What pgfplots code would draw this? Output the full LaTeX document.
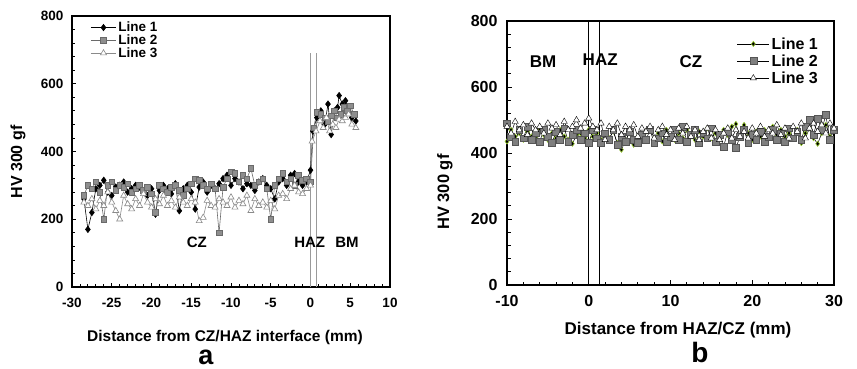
\documentclass[border=0pt]{standalone}
\usepackage{pgfplots}
\pgfplotsset{compat=1.18}
\usepackage{fontspec}
\setmainfont{Liberation Sans}
\definecolor{sqA}{HTML}{8E8E8E}
\definecolor{sqAedge}{HTML}{6A6A6A}
\definecolor{triA}{HTML}{8A8A8A}
\definecolor{sqB}{HTML}{7F7F7F}
\definecolor{sqBedge}{HTML}{555555}
\definecolor{ygreen}{HTML}{9ACD32}
\definecolor{vline}{HTML}{9A9A9A}

\begin{document}
\begin{tikzpicture}[font=\bfseries]
\useasboundingbox (0,0) rectangle (857pt,368pt);
% ---------------- panel a ----------------
\begin{axis}[at={(72pt,81pt)}, anchor=south west, scale only axis,
  width=318pt, height=271pt,
  xmin=-30, xmax=10, ymin=0, ymax=800,
  xtick={-30,-25,...,10}, ytick={0,200,...,800},
  minor x tick num=4, minor y tick num=4,
  tick pos=left, tick align=inside,
  major tick length=4pt, minor tick length=3pt,
  axis line style={line width=1.5pt},
  every tick/.style={black, line width=0.8pt},
  /pgf/number format/assume math mode=true,
  x tick label style={font=\bfseries\fontsize{13.5}{15}\selectfont, yshift=-8pt},
  y tick label style={font=\bfseries\fontsize{13.5}{15}\selectfont, xshift=-5pt},
  xlabel={Distance from CZ/HAZ interface (mm)},
  ylabel={HV 300 gf},
  xlabel style={font=\bfseries\fontsize{15.5}{17}\selectfont, at={(axis description cs:0.481,-0.1845)}, anchor=center},
  ylabel style={font=\bfseries\fontsize{16}{18}\selectfont, at={(axis description cs:-0.170,0.461)}, anchor=center},
  legend style={at={(axis description cs:0.055,0.99)}, anchor=north west, draw=none, fill=none,
    font=\bfseries\fontsize{13.5}{14}\selectfont, row sep=-2.5pt, inner sep=1pt},
  legend cell align=left,
  legend image code/.code={\draw[mark repeat=2,mark phase=2,#1] plot coordinates {(0pt,0pt) (12.5pt,0pt) (25pt,0pt)};},
]
\addplot[forget plot, vline, line width=0.9pt] coordinates {(0,0) (0,690)};
\addplot[forget plot, vline, line width=0.9pt] coordinates {(0.75,0) (0.75,690)};
\addplot[black, line width=0.6pt, mark=diamond*, mark size=3.2pt, mark options={fill=black, draw=black}] coordinates {
(-28.5,260) (-28,170) (-27.5,220) (-27,290) (-26.5,300) (-26,315) (-25.5,280) (-25,270) (-24.5,295) (-24,300)
(-23.5,310) (-23,280) (-22.5,290) (-22,300) (-21.5,295) (-21,280) (-20.5,270) (-20,290) (-19.5,215) (-19,285)
(-18.5,300) (-18,290) (-17.5,275) (-17,305) (-16.5,225) (-16,290) (-15.5,300) (-15,280) (-14.5,230) (-14,295)
(-13.5,310) (-13,280) (-12.5,300) (-12,290) (-11.5,305) (-11,320) (-10.5,330) (-10,300) (-9.5,320) (-9,310)
(-8.5,290) (-8,305) (-7.5,300) (-7,285) (-6.5,310) (-6,320) (-5.5,300) (-5,290) (-4.5,260) (-4,310)
(-3.5,320) (-3,300) (-2.5,330) (-2,335) (-1.5,310) (-1,300) (-0.5,310) (0,345) (0.3,460) (0.8,500)
(1.3,520) (1.8,480) (2.2,540) (2.6,450) (3,520) (3.4,530) (3.6,565) (4,540) (4.4,550) (4.8,520) (5.2,500) (5.7,490)};
\addlegendentry{Line 1}
\addplot[sqAedge, line width=0.6pt, mark=square*, mark size=2.8pt, mark options={fill=sqA, draw=sqAedge}] coordinates {
(-28.5,270) (-28,300) (-27.5,290) (-27,310) (-26.5,280) (-26,200) (-25.5,300) (-25,310) (-24.5,285) (-24,300)
(-23.5,295) (-23,305) (-22.5,280) (-22,290) (-21.5,300) (-21,285) (-20.5,295) (-20,275) (-19.5,220) (-19,300)
(-18.5,290) (-18,280) (-17.5,295) (-17,300) (-16.5,285) (-16,270) (-15.5,290) (-15,305) (-14.5,320) (-14,315)
(-13.5,300) (-13,290) (-12.5,305) (-12,290) (-11.5,160) (-11,295) (-10.5,320) (-10,340) (-9.5,335) (-9,310)
(-8.5,330) (-8,320) (-7.5,350) (-7,300) (-6.5,310) (-6,320) (-5.5,290) (-5,200) (-4.5,300) (-4,320)
(-3.5,335) (-3,310) (-2.5,320) (-2,300) (-1.5,330) (-1,315) (-0.5,320) (0,310) (0.4,470) (0.8,515)
(1.3,510) (1.8,500) (2.2,490) (2.6,505) (3,520) (3.4,500) (3.8,510) (4.2,530) (4.6,520) (5,535) (5.5,510)};
\addlegendentry{Line 2}
\addplot[triA, line width=0.6pt, mark=triangle*, mark size=3.5pt, mark options={fill=white, draw=triA}] coordinates {
(-28.5,250) (-28,240) (-27.5,260) (-27,230) (-26.5,255) (-26,240) (-25.5,280) (-25,250) (-24.5,225) (-24,200)
(-23.5,270) (-23,245) (-22.5,230) (-22,260) (-21.5,240) (-21,275) (-20.5,250) (-20,235) (-19.5,260) (-19,245)
(-18.5,270) (-18,240) (-17.5,255) (-17,235) (-16.5,265) (-16,250) (-15.5,240) (-15,260) (-14.5,250) (-14,195)
(-13.5,205) (-13,255) (-12.5,240) (-12,235) (-11.5,260) (-11,250) (-10.5,240) (-10,265) (-9.5,235) (-9,255)
(-8.5,245) (-8,270) (-7.5,225) (-7,260) (-6.5,240) (-6,250) (-5.5,235) (-5,255) (-4.5,230) (-4,270)
(-3.5,275) (-3,260) (-2.5,290) (-2,300) (-1.5,280) (-1,275) (-0.5,290) (0,300) (0.2,430) (0.7,460)
(1.2,490) (1.6,470) (2,500) (2.4,460) (2.8,480) (3.2,470) (3.6,495) (4,490) (4.4,500) (4.8,510) (5.2,480) (5.7,470)};
\addlegendentry{Line 3}
\node[font=\bfseries\fontsize{15}{17}\selectfont] at (axis cs:-14.3,133) {CZ};
\node[font=\bfseries\fontsize{15}{17}\selectfont] at (axis cs:-0.1,133) {HAZ};
\node[font=\bfseries\fontsize{15}{17}\selectfont] at (axis cs:4.6,133) {BM};
\end{axis}
% ---------------- panel b ----------------
\begin{axis}[at={(507pt,83pt)}, anchor=south west, scale only axis,
  width=327pt, height=264pt,
  xmin=-10, xmax=30, ymin=0, ymax=800,
  xtick={-10,0,...,30}, ytick={0,200,...,800},
  minor x tick num=4, minor y tick num=4,
  tick pos=left, tick align=inside,
  major tick length=5pt, minor tick length=3.5pt,
  axis line style={line width=1.5pt},
  every tick/.style={black, line width=0.8pt},
  /pgf/number format/assume math mode=true,
  x tick label style={font=\bfseries\fontsize{16}{18}\selectfont, yshift=-7pt},
  y tick label style={font=\bfseries\fontsize{16}{18}\selectfont, xshift=-6pt},
  xlabel={Distance from HAZ/CZ (mm)},
  ylabel={HV 300 gf},
  xlabel style={font=\bfseries\fontsize{17}{19}\selectfont, at={(axis description cs:0.523,-0.170)}, anchor=center},
  ylabel style={font=\bfseries\fontsize{16.5}{18}\selectfont, at={(axis description cs:-0.190,0.352)}, anchor=center},
  legend style={at={(axis description cs:0.70,0.95)}, anchor=north west, draw=none, fill=none,
    font=\bfseries\fontsize{16}{17}\selectfont, row sep=0pt, inner sep=1pt},
  legend cell align=left,
  legend image code/.code={\draw[mark repeat=2,mark phase=2,#1] plot coordinates {(0pt,0pt) (16pt,0pt) (32pt,0pt)};},
]
\addplot[forget plot, black, line width=0.8pt] coordinates {(0,0) (0,800)};
\addplot[forget plot, black, line width=0.8pt] coordinates {(1.35,0) (1.35,800)};
\addplot[black, line width=0.5pt, mark=diamond*, mark size=2.6pt, mark options={fill=black, draw=ygreen, line width=0.6pt}] coordinates {
(-10,435) (-9.5,470) (-9,450) (-8.5,460) (-8,440) (-7.5,465) (-7,450) (-6.5,445) (-6,470) (-5.5,455)
(-5,440) (-4.5,460) (-4,445) (-3.5,470) (-3,450) (-2.5,440) (-2,428) (-1.5,455) (-1,460) (-0.5,445)
(0,470) (0.5,450) (1,460) (1.5,440) (2,455) (2.5,445) (3,465) (3.5,430) (4,410) (4.5,440)
(5,460) (5.5,425) (6,450) (6.5,440) (7,465) (7.5,475) (8,445) (8.5,460) (9,435) (9.5,470)
(10,450) (10.5,440) (11,460) (11.5,445) (12,470) (12.5,450) (13,440) (13.5,465) (14,450) (14.5,475)
(15,445) (15.5,460) (16,440) (16.5,470) (17,455) (17.5,480) (18,488) (18.5,450) (19,485) (19.5,460)
(20,440) (20.5,465) (21,450) (21.5,470) (22,445) (22.5,480) (23,455) (23.5,470) (24,450) (24.5,460)
(25,445) (25.5,470) (26,430) (26.5,460) (27,475) (27.5,445) (28,428) (28.5,460) (29,485) (29.5,450) (30,470)};
\addlegendentry{Line 1}
\addplot[black, line width=0.5pt, mark=square*, mark size=3.4pt, mark options={fill=sqB, draw=sqBedge}] coordinates {
(-10,490) (-9.5,450) (-9,435) (-8.5,470) (-8,445) (-7.5,480) (-7,440) (-6.5,460) (-6,435) (-5.5,470)
(-5,450) (-4.5,430) (-4,465) (-3.5,440) (-3,475) (-2.5,435) (-2,455) (-1.5,470) (-1,440) (-0.5,460)
(0,430) (0.5,470) (1,445) (1.5,430) (2,460) (2.5,440) (3,470) (3.5,425) (4,450) (4.5,435)
(5,465) (5.5,440) (6,430) (6.5,455) (7,440) (7.5,470) (8,430) (8.5,445) (9,460) (9.5,435)
(10,450) (10.5,470) (11,440) (11.5,480) (12,435) (12.5,455) (13,470) (13.5,430) (14,460) (14.5,445)
(15,475) (15.5,435) (16,455) (16.5,420) (17,465) (17.5,440) (18,415) (18.5,450) (19,470) (19.5,430)
(20,455) (20.5,440) (21,465) (21.5,435) (22,450) (22.5,470) (23,440) (23.5,460) (24,435) (24.5,475)
(25,445) (25.5,465) (26,440) (26.5,480) (27,500) (27.5,455) (28,505) (28.5,470) (29,515) (29.5,440) (30,470)};
\addlegendentry{Line 2}
\addplot[black, line width=0.5pt, mark=triangle*, mark size=3.6pt, mark options={fill=white, draw=black, line width=0.4pt}] coordinates {
(-10,480) (-9.5,460) (-9,495) (-8.5,470) (-8,485) (-7.5,455) (-7,490) (-6.5,470) (-6,480) (-5.5,460)
(-5,490) (-4.5,475) (-4,485) (-3.5,455) (-3,495) (-2.5,470) (-2,480) (-1.5,500) (-1,475) (-0.5,490)
(0,505) (0.5,480) (1,470) (1.5,490) (2,440) (2.5,480) (3,470) (3.5,490) (4,455) (4.5,480)
(5,470) (5.5,485) (6,450) (6.5,475) (7,465) (7.5,480) (8,445) (8.5,470) (9,480) (9.5,455)
(10,470) (10.5,440) (11,475) (11.5,460) (12,480) (12.5,450) (13,470) (13.5,440) (14,465) (14.5,475)
(15,445) (15.5,470) (16,440) (16.5,460) (17,475) (17.5,445) (18,470) (18.5,450) (19,465) (19.5,445)
(20,475) (20.5,460) (21,480) (21.5,450) (22,470) (22.5,460) (23,485) (23.5,455) (24,475) (24.5,445)
(25,480) (25.5,465) (26,490) (26.5,445) (27,475) (27.5,490) (28,465) (28.5,485) (29,460) (29.5,490) (30,475)};
\addlegendentry{Line 3}
\node[font=\bfseries\fontsize{17}{19}\selectfont] at (axis cs:-5.6,676) {BM};
\node[font=\bfseries\fontsize{17}{19}\selectfont] at (axis cs:1.4,682) {HAZ};
\node[font=\bfseries\fontsize{17}{19}\selectfont] at (axis cs:12.5,676) {CZ};
\end{axis}
\node[anchor=base, font=\bfseries\fontsize{27}{30}\selectfont] at (206pt,4pt) {a};
\node[anchor=base, font=\bfseries\fontsize{28}{30}\selectfont] at (700pt,6pt) {b};
\end{tikzpicture}
\end{document}
